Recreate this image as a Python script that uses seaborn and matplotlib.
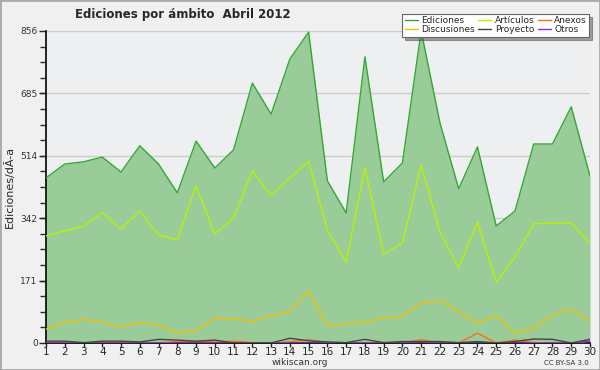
import numpy as np
import pandas as pd
import seaborn as sns
import matplotlib.pyplot as plt
from matplotlib.ticker import FixedLocator, MultipleLocator

days = list(range(1, 31))

ediciones = [453, 491, 497, 510, 469, 541, 491, 412, 554, 480,
             530, 713, 628, 779, 853, 445, 357, 785, 442, 494,
             856, 604, 423, 538, 321, 362, 546, 546, 648, 458]
articulos = [294, 307, 321, 357, 313, 362, 296, 283, 431, 299,
             343, 472, 406, 453, 499, 310, 222, 480, 244, 274,
             488, 305, 206, 332, 167, 236, 327, 329, 329, 274]
discusiones = [38, 56, 65, 58, 44, 57, 49, 27, 34, 68,
               66, 60, 75, 86, 143, 47, 52, 58, 68, 74,
               109, 118, 86, 54, 75, 27, 40, 77, 92, 60]
anexos = [0, 0, 0, 0, 0, 0, 0, 4, 4, 3,
          5, 1, 0, 3, 9, 1, 0, 0, 0, 0,
          9, 0, 0, 27, 0, 8, 1, 0, 0, 5]
proyecto = [5, 5, 1, 5, 5, 3, 10, 8, 5, 8,
            0, 0, 0, 13, 6, 3, 1, 10, 1, 4,
            4, 4, 1, 4, 0, 4, 11, 10, 0, 10]
otros = [0, 0, 1, 0, 0, 0, 0, 0, 0, 0,
         0, 0, 1, 0, 0, 0, 0, 0, 0, 0,
         3, 0, 0, 0, 0, 0, 0, 0, 0, 5]

y_ticks = [0, 171, 342, 514, 685, 856]
y_max = 856

series = {
    'Ediciones': ediciones,
    'Artículos': articulos,
    'Anexos': anexos,
    'Discusiones': discusiones,
    'Proyecto': proyecto,
    'Otros': otros,
}
colors = {
    'Ediciones': '#33a833',
    'Artículos': '#bbf000',
    'Anexos': '#ff6a1a',
    'Discusiones': '#f2c200',
    'Proyecto': '#444444',
    'Otros': '#8a2be2',
}

df = pd.DataFrame([
    {'dia': d, 'valor': v, 'serie': name}
    for name, vals in series.items()
    for d, v in zip(days, vals)
])

sns.set_style("white")
plt.rcParams['font.family'] = ['DejaVu Sans']

fig = plt.figure(figsize=(6, 3.7), dpi=100, facecolor='#f0f0f0')
ax = fig.add_axes([46 / 600, 27 / 370, 544 / 600, 312 / 370])
ax.set_facecolor('#eeeff1')

ax.fill_between(days, ediciones, 0, color='#99cc99', zorder=1, linewidth=0)

draw_order = ['Ediciones', 'Artículos', 'Discusiones', 'Anexos', 'Otros', 'Proyecto']
for name in draw_order:
    sns.lineplot(data=df[df['serie'] == name], x='dia', y='valor',
                 color=colors[name], linewidth=1.0, ax=ax, zorder=3,
                 legend=False)

ax.set_xlim(1, 30)
ax.set_ylim(0, y_max)
ax.set_xticks(days)
ax.set_xticklabels([str(d) for d in days], fontsize=7.5)
ax.yaxis.set_major_locator(FixedLocator(y_ticks))
ax.yaxis.set_minor_locator(MultipleLocator(y_max / 20))
ax.set_yticklabels([str(t) for t in y_ticks], fontsize=6.5, color='#333333')
ax.tick_params(axis='y', which='major', direction='out', length=5, width=1, left=True, pad=1)
ax.tick_params(axis='y', which='minor', direction='out', length=4, width=1, left=True)
ax.tick_params(axis='x', which='major', direction='out', length=3, width=1, bottom=True, pad=0)
ax.grid(axis='y', color='#cccccc', linewidth=1, zorder=0)
ax.set_axisbelow(True)

for s in ['top', 'right']:
    ax.spines[s].set_visible(False)
for s in ['left', 'bottom']:
    ax.spines[s].set_color('black')
    ax.spines[s].set_linewidth(1.2)

ax.set_xlabel('')
ax.set_ylabel('Ediciones/dÃ-a', fontsize=8, labelpad=4)

fig.text(0.305, 0.962, 'Ediciones por ámbito  Abril 2012', ha='center', va='center',
         fontsize=8.5, fontweight='bold')
fig.text(0.5, 0.02, 'wikiscan.org', ha='center', va='center', fontsize=6.5, color='#333333')
fig.text(0.982, 0.02, 'CC BY-SA 3.0', ha='right', va='center', fontsize=5, color='#333333')

legend_order = ['Ediciones', 'Discusiones', 'Artículos', 'Proyecto', 'Anexos', 'Otros']
handles = [plt.Line2D([], [], color=colors[n], linewidth=1) for n in legend_order]
leg = fig.legend(handles, legend_order, loc='upper right', bbox_to_anchor=(0.99, 0.975),
                 ncol=3, fontsize=6.5, frameon=True, fancybox=False, shadow=True,
                 handlelength=1.4, handletextpad=0.4, columnspacing=0.4,
                 labelspacing=0.0, borderpad=0.3, edgecolor='#666666')
leg.get_frame().set_linewidth(0.8)
leg.get_frame().set_facecolor('white')

fig.patches.append(plt.Rectangle((0, 0), 1, 1, transform=fig.transFigure,
                                 fill=False, edgecolor='#aaaaaa', linewidth=2))

plt.savefig('out.png', dpi=100, facecolor=fig.get_facecolor())
